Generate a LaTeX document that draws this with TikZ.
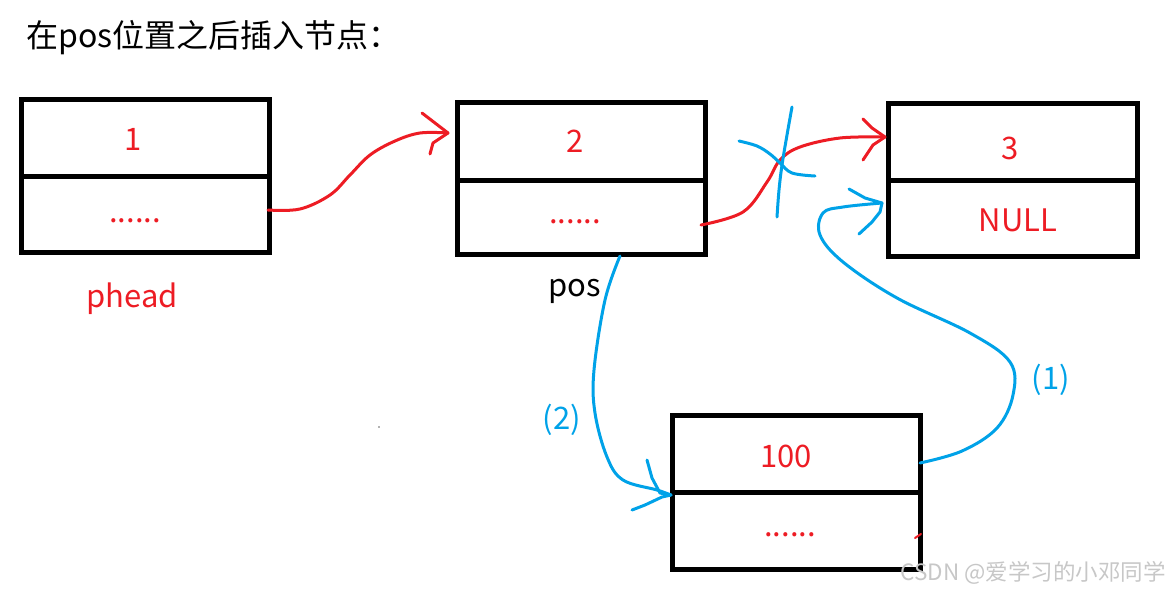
\documentclass[tikz,border=0pt]{standalone}
\usepackage{fontspec}
\setmainfont{Noto Sans CJK SC}
\definecolor{pred}{RGB}{237,28,36}
\definecolor{pblue}{RGB}{0,162,232}
\begin{document}
\begin{tikzpicture}[x=1pt,y=-1pt,
  cell/.style={draw=black,line width=5pt,rectangle,inner sep=0pt,minimum width=248pt},
  lab/.style={text=pred,font=\fontsize{31}{34}\selectfont,inner sep=0pt},
  blab/.style={text=pblue,font=\fontsize{31}{34}\selectfont,inner sep=0pt},
  pen/.style={line width=3pt,line cap=round,line join=round},
  rpen/.style={pen,draw=pred},
  bpen/.style={pen,draw=pblue}]
\useasboundingbox (0,0) rectangle (1169,592);
% title
\node[anchor=west,inner sep=0pt,font=\fontsize{32}{36}\selectfont] (title) at (26,38) {在pos位置之后插入节点：};
% boxes
\node[cell,minimum height=77pt] (b1t) at (145,137.5) {};
\node[cell,minimum height=76pt] (b1b) at (145,214) {};
\node[cell,minimum height=78pt] (b2t) at (581,141) {};
\node[cell,minimum height=74pt] (b2b) at (581,217) {};
\node[cell,minimum width=249pt,minimum height=77pt] (b3t) at (1012.5,141.5) {};
\node[cell,minimum width=249pt,minimum height=76pt] (b3b) at (1012.5,218) {};
\node[cell,minimum height=77pt] (b4t) at (796,453.5) {};
\node[cell,minimum height=77pt] (b4b) at (796,530.5) {};
% labels
\node[lab] (t1) at (133,139) {1};
\node[lab] (d1) at (135,221) {......};
\node[lab] (t2) at (575,141) {2};
\node[lab] (d2) at (575,222) {......};
\node[lab] (t3) at (1010,148) {3};
\node[lab] (t3n) at (1018,220) {NULL};
\node[lab] (t4) at (786,456) {100};
\node[lab] (d4) at (790,535) {......};
\node[lab] (ph) at (132,299) {phead};
\node[inner sep=0pt,font=\fontsize{31}{34}\selectfont] (pos) at (575,291) {pos};
\node[blab] (l2) at (562,420) {(2)};
\node[blab] (l1) at (1051,380) {(1)};
\node[anchor=east,inner sep=0pt,text=black!22,font=\fontsize{22.5}{26}\selectfont] (wm) at (1166,573) {CSDN @爱学习的小邓同学};
% coordinates
\coordinate (r1s) at (268,210);
\coordinate (r1e) at (448,133);
\coordinate (r2s) at (701,225);
\coordinate (r2e) at (885,137);
\coordinate (a2s) at (620,256);
\coordinate (a2e) at (671,495);
\coordinate (a1s) at (920,463);
\coordinate (a1e) at (882,203);
% red arrow 1
\draw[rpen] plot[smooth,tension=0.6] coordinates {(r1s) (300,209) (330,195) (350,175) (370,155) (395,141) (420,133) (r1e)};
\draw[rpen] (422,113) -- (435,123) -- (r1e);
\draw[rpen] (430,154) -- (433,143) -- (r1e);
% red arrow 2
\draw[rpen] plot[smooth,tension=0.6] coordinates {(r2s) (743,212) (767,182) (780,160) (800,147) (840,138) (r2e)};
\draw[rpen] (863,119) -- (872,128) -- (r2e);
\draw[rpen] (863,160) -- (873,145) -- (r2e);
% blue cross
\draw[bpen] plot[smooth,tension=0.6] coordinates {(792,107) (787,135) (782,165) (779,190) (777,217)};
\draw[bpen] plot[smooth,tension=0.6] coordinates {(739,141) (757,146) (770,154) (780,163) (792,173) (815,176)};
% blue arrow (2)
\draw[bpen] plot[smooth,tension=0.6] coordinates {(a2s) (605,300) (594,370) (595,413) (607,457) (623,480) (657,490) (a2e)};
\draw[bpen] (647,460) -- (652,478) -- (660,493) -- (a2e);
\draw[bpen] (632,510) -- (645,505) -- (662,497) -- (a2e);
% blue arrow (1)
\draw[bpen] plot[smooth,tension=0.6] coordinates {(a1s) (962,451) (997,428) (1013,395) (1010,362) (970,333) (897,298) (843,262) (820,235) (823,213) (843,207) (a1e)};
\draw[bpen] (849,189) -- (865,198) -- (a1e);
\draw[bpen] (859,234) -- (872,222) -- (880,212) -- (a1e);
% small marks
\draw[rpen,line width=2pt] (915,538) -- (921,534);
\fill[black!60] (379,427) circle (0.8);
\end{tikzpicture}
\end{document}
